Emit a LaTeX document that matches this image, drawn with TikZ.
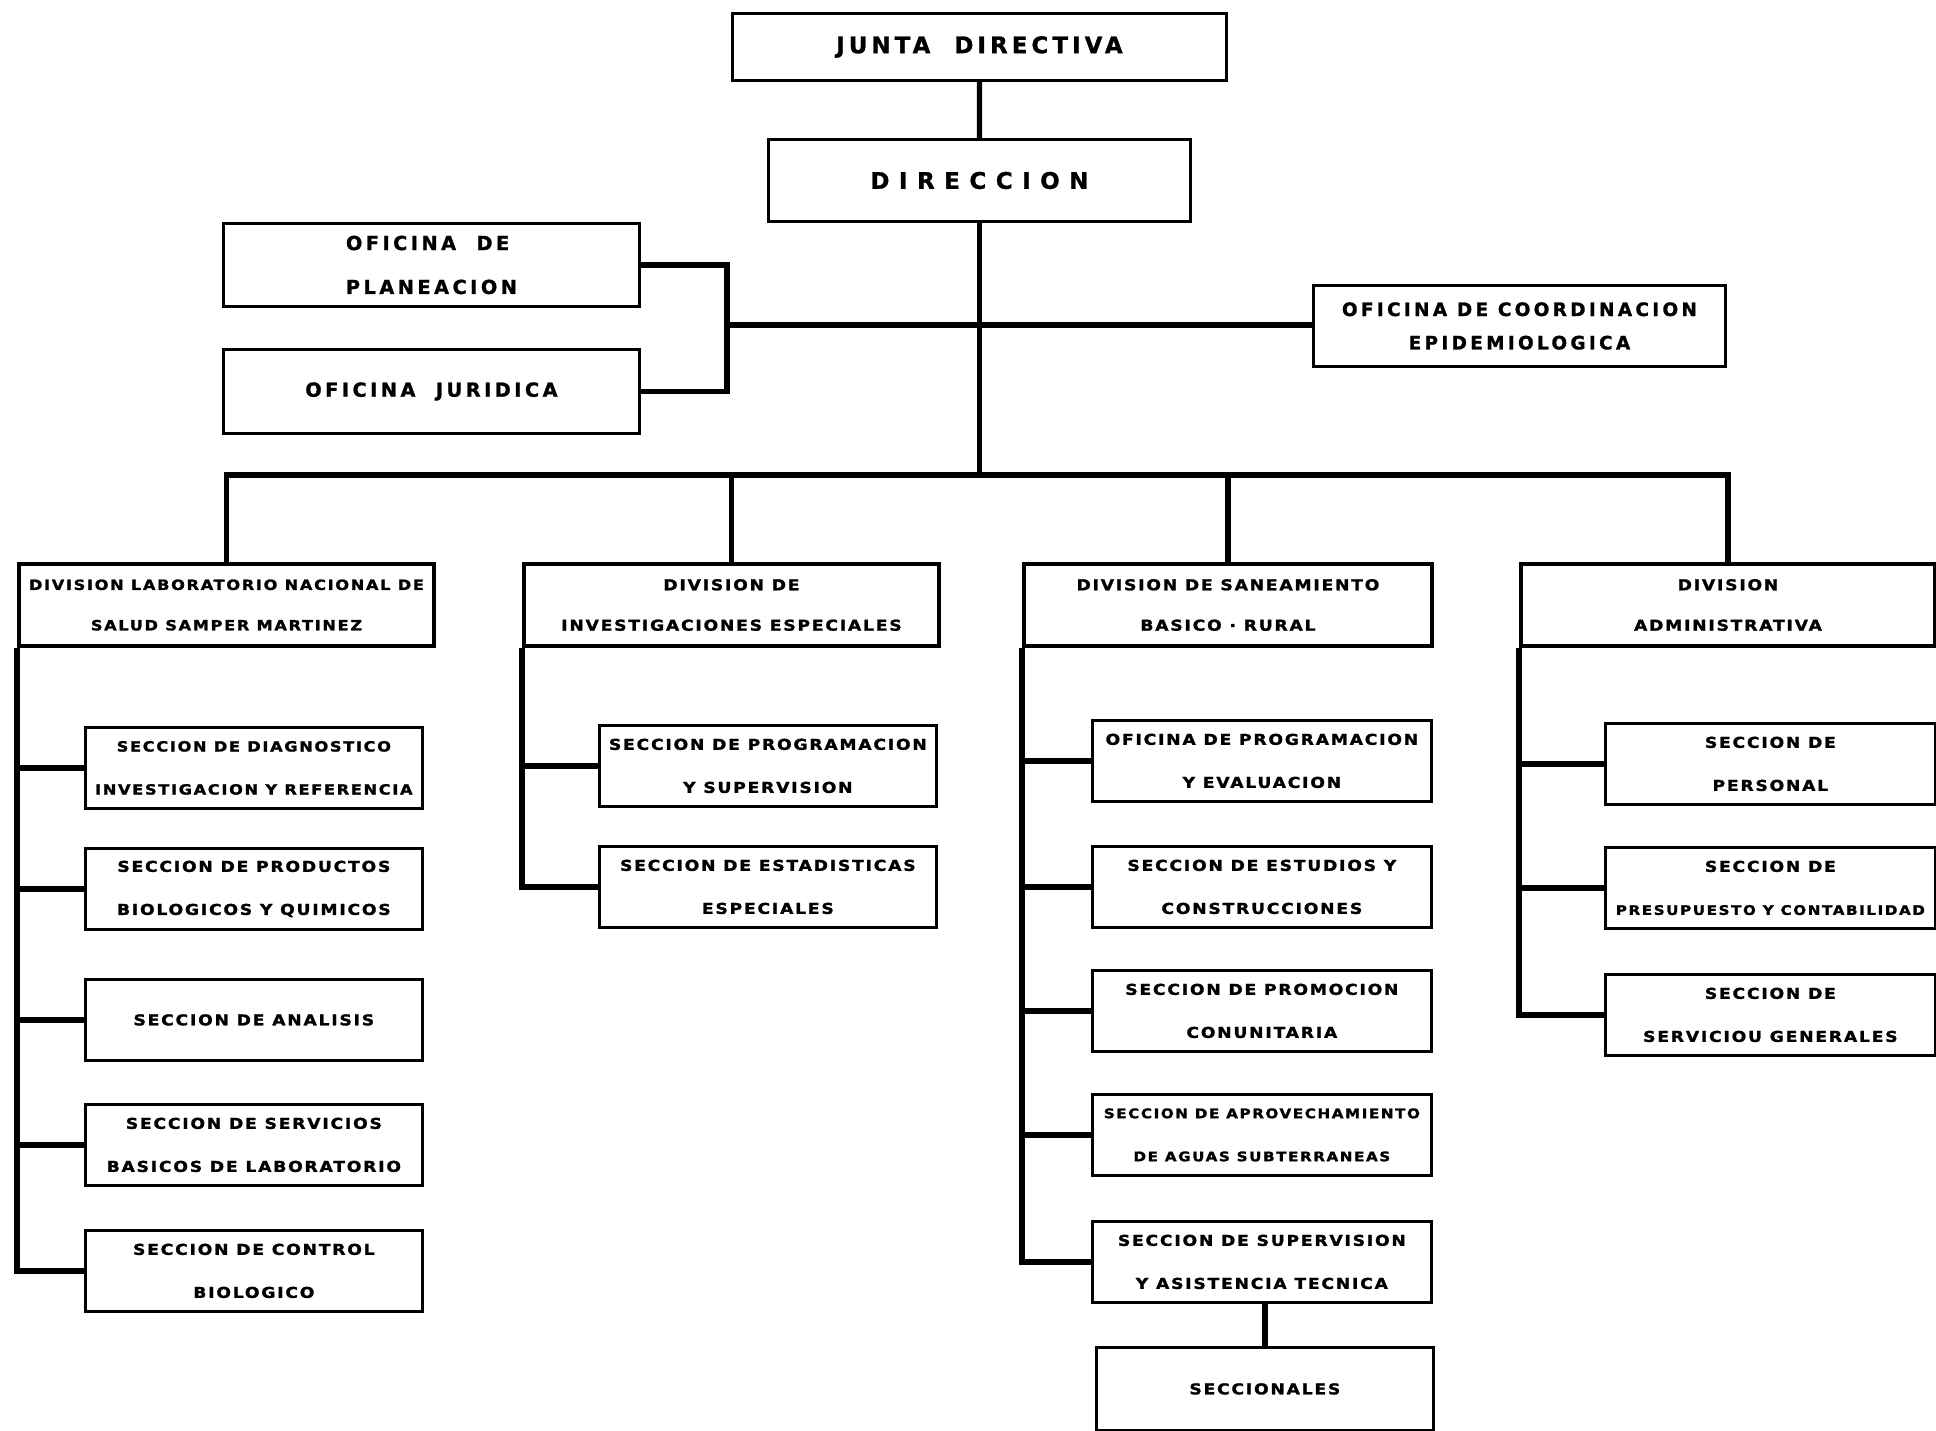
\documentclass[tikz,border=0pt]{standalone}
\usepackage{fontspec}
\setmainfont{DejaVu Sans}
\newfontfamily\headfont[LetterSpace=18,BoldFeatures={FakeBold=1.2}]{DejaVu Sans}
\newfontfamily\unitfont[LetterSpace=12,FakeStretch=1.15,BoldFeatures={FakeBold=1.6}]{DejaVu Sans}
\usetikzlibrary{positioning,calc}

\begin{document}
\begin{tikzpicture}[x=0.02cm,y=-0.02cm,
    headbox/.style={rectangle, draw, line width=1.7pt, anchor=north west,
                    inner sep=0pt, align=center,
                    font=\headfont\bfseries\fontsize{13}{16}\selectfont},
    office/.style={headbox, font=\headfont\bfseries\fontsize{11}{25}\selectfont},
    divbox/.style={rectangle, draw, line width=2.3pt, anchor=north west,
                   inner sep=0pt, minimum width=8.3cm, minimum height=1.64cm,
                   align=center, font=\unitfont\bfseries\fontsize{8.5}{23}\selectfont},
    secbox/.style={rectangle, draw, line width=1.6pt, anchor=north west,
                   inner sep=0pt, minimum width=6.74cm, minimum height=1.62cm,
                   align=center, font=\unitfont\bfseries\fontsize{8.5}{24.5}\selectfont},
    wire/.style={line width=3pt},
]
\useasboundingbox (0,0) rectangle (1936,1430);

% upper levels
\node[headbox, minimum width=9.88cm, minimum height=1.34cm] (junta) at (731,12) {JUNTA\ \ DIRECTIVA};
\node[headbox, minimum width=8.44cm, minimum height=1.64cm] (dir) at (767,138) {\addfontfeature{LetterSpace=42}DIRECCION};
\node[office, align=left, minimum width=8.32cm, minimum height=1.66cm] (plan) at (222,222) {OFICINA\ \ DE\\PLANEACION};
\node[office, minimum width=8.32cm, minimum height=1.68cm] (jur) at (222,348) {OFICINA\ \ JURIDICA};
\node[office, font=\headfont\bfseries\fontsize{10.5}{19}\selectfont, minimum width=8.24cm, minimum height=1.62cm] (coord) at (1312,284) {OFICINA DE COORDINACION\\EPIDEMIOLOGICA};

% divisiones
\node[divbox, font=\unitfont\bfseries\fontsize{8}{23}\selectfont] (div1) at (17,562) {DIVISION LABORATORIO NACIONAL DE\\SALUD SAMPER MARTINEZ};
\node[divbox] (div2) at (522,562) {DIVISION DE\\INVESTIGACIONES ESPECIALES};
\node[divbox, minimum width=8.16cm] (div3) at (1022,562) {DIVISION DE SANEAMIENTO\\BASICO · RURAL};
\node[divbox, minimum width=8.28cm] (div4) at (1519,562) {DIVISION\\ADMINISTRATIVA};

% laboratorio
\node[secbox, font=\unitfont\bfseries\fontsize{8}{24.5}\selectfont] (lab1) at (84,726) {SECCION DE DIAGNOSTICO\\INVESTIGACION Y REFERENCIA};
\node[secbox] (lab2) at (84,847) {SECCION DE PRODUCTOS\\BIOLOGICOS Y QUIMICOS};
\node[secbox] (lab3) at (84,978) {SECCION DE ANALISIS};
\node[secbox] (lab4) at (84,1103) {SECCION DE SERVICIOS\\BASICOS DE LABORATORIO};
\node[secbox] (lab5) at (84,1229) {SECCION DE CONTROL\\BIOLOGICO};

% investigaciones
\node[secbox] (inv1) at (598,724) {SECCION DE PROGRAMACION\\Y SUPERVISION};
\node[secbox] (inv2) at (598,845) {SECCION DE ESTADISTICAS\\ESPECIALES};

% saneamiento
\node[secbox, minimum width=6.78cm] (san1) at (1091,719) {OFICINA DE PROGRAMACION\\Y EVALUACION};
\node[secbox, minimum width=6.78cm] (san2) at (1091,845) {SECCION DE ESTUDIOS Y\\CONSTRUCCIONES};
\node[secbox, minimum width=6.78cm] (san3) at (1091,969) {SECCION DE PROMOCION\\CONUNITARIA};
\node[secbox, minimum width=6.78cm, font=\unitfont\bfseries\fontsize{7.5}{24.5}\selectfont] (san4) at (1091,1093) {SECCION DE APROVECHAMIENTO\\DE AGUAS SUBTERRANEAS};
\node[secbox, minimum width=6.78cm] (san5) at (1091,1220) {SECCION DE SUPERVISION\\Y ASISTENCIA TECNICA};
\node[secbox, minimum width=6.74cm, minimum height=1.66cm] (secc) at (1095,1346) {SECCIONALES};

% administrativa
\node[secbox, minimum width=6.6cm] (adm1) at (1604,722) {SECCION DE\\PERSONAL};
\node[secbox, minimum width=6.6cm] (adm2) at (1604,846) {SECCION DE\\{\fontsize{7.5}{24.5}\selectfont PRESUPUESTO Y CONTABILIDAD}};
\node[secbox, minimum width=6.6cm] (adm3) at (1604,973) {SECCION DE\\SERVICIOU GENERALES};

% lineas
\coordinate (bus) at (978,475);
\coordinate (staff) at (727,325);
\draw[wire] (junta) -- (dir);
\draw[wire] (dir) -- (dir |- bus);
\draw[wire] (plan.east) -| (staff) |- (jur.east);
\draw[wire] (staff) -- (staff -| coord.west);
\draw[wire] (div1.north) |- (bus) -| (div4.north);
\draw[wire] (div2.north) -- (div2.north |- bus);
\draw[wire] (div3.north) -- (div3.north |- bus);

\foreach \s in {lab1,lab2,lab3,lab4,lab5}
  \draw[wire] (div1.south west) |- (\s.west);
\foreach \s in {inv1,inv2}
  \draw[wire] (div2.south west) |- (\s.west);
\foreach \s in {san1,san2,san3,san4,san5}
  \draw[wire] (div3.south west) |- (\s.west);
\foreach \s in {adm1,adm2,adm3}
  \draw[wire] (div4.south west) |- (\s.west);
\draw[wire] (secc.north) -- (secc.north |- san5.south);

\end{tikzpicture}
\end{document}
